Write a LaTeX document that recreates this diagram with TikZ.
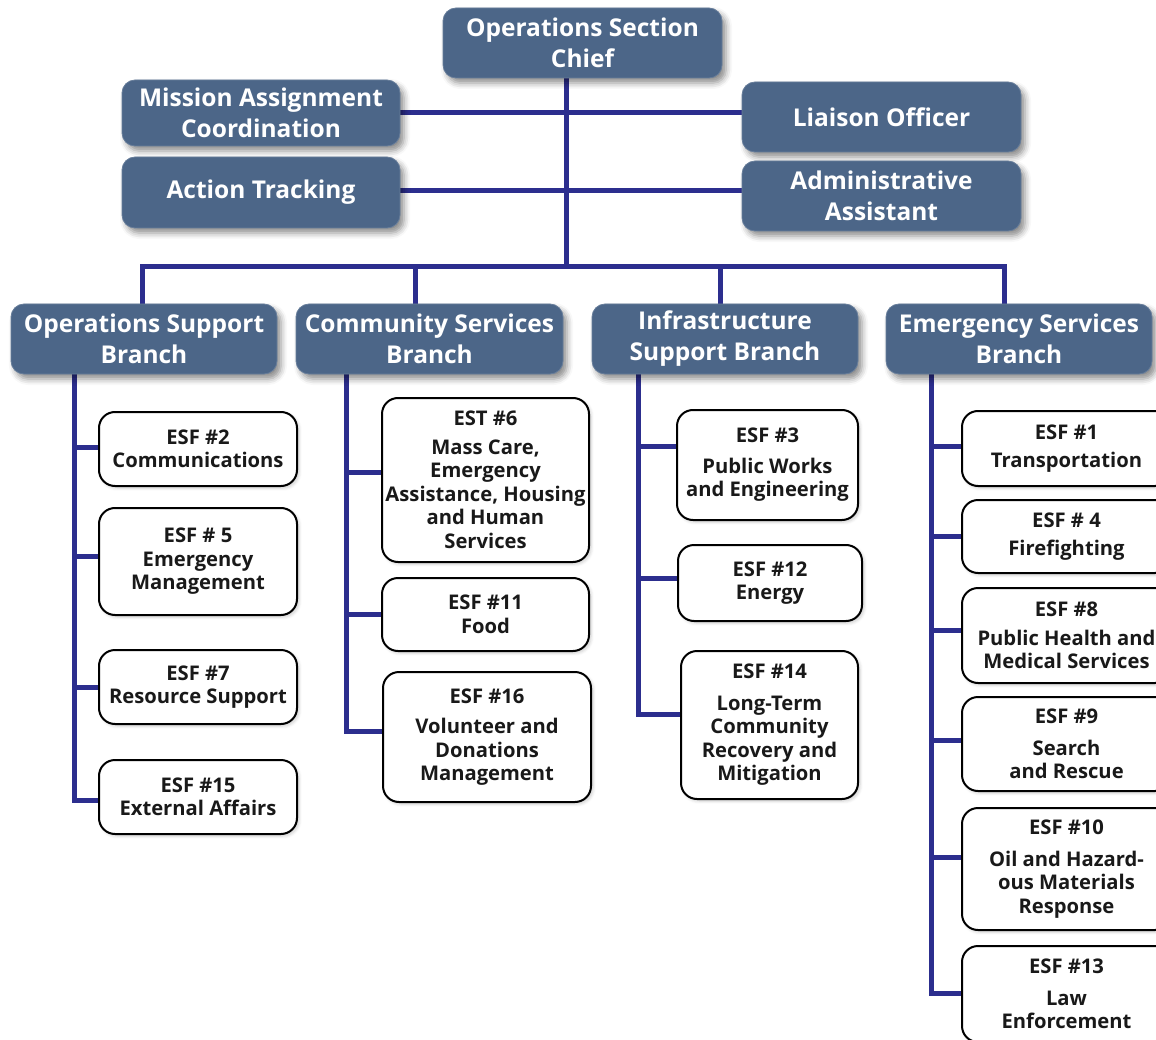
\documentclass[tikz,border=0pt]{standalone}
\usepackage{fontspec}
\setmainfont{Open Sans}
\usetikzlibrary{shadows.blur,calc}
\definecolor{boxblue}{RGB}{76,102,136}
\definecolor{linkblue}{RGB}{44,46,142}
\pgfdeclarelayer{bg}
\pgfsetlayers{bg,main}
\tikzset{
  headbox/.style={draw=boxblue!85!white, line width=0.8pt, fill=boxblue,
    rounded corners=13pt, text=white, align=center, inner sep=0pt,
    font=\bfseries\fontsize{24.5}{31}\selectfont,
    blur shadow={shadow xshift=4pt, shadow yshift=-5pt,
      shadow blur radius=6pt, shadow opacity=45}},
  esfbox/.style={draw=black, line width=2pt, fill=white,
    rounded corners=16pt, align=center, inner sep=0pt, text=black!90,
    font=\bfseries\fontsize{20.2}{23.5}\selectfont,
    blur shadow={shadow xshift=2pt, shadow yshift=-2pt,
      shadow blur radius=3pt, shadow opacity=20}},
  link/.style={draw=linkblue, line width=5pt, line cap=rect},
}
\begin{document}
\begin{tikzpicture}[x=1pt,y=-1pt]
\useasboundingbox (0,0) rectangle (1156,1040);
\clip (0,0) rectangle (1156,1040);

% command staff
\node[headbox, minimum width=279pt, minimum height=70pt] (chief) at (582.5,43) {Operations Section\\Chief};
\node[headbox, minimum width=278pt, minimum height=66pt] (mac) at (261,113) {Mission Assignment\\Coordination};
\node[headbox, minimum width=279pt, minimum height=70pt] (liaison) at (881.5,117) {Liaison Officer};
\node[headbox, minimum width=278pt, minimum height=71pt] (action) at (261,192.5) {Action Tracking};
\node[headbox, minimum width=279pt, minimum height=70pt] (admin) at (881.5,196) {Administrative\\Assistant};

% branches
\node[headbox, minimum width=266pt, minimum height=70pt] (ops) at (144,339) {Operations Support\\Branch};
\node[headbox, minimum width=267pt, minimum height=70pt] (comm) at (429.5,339) {Community Services\\Branch};
\node[headbox, minimum width=266pt, minimum height=70pt] (infra) at (725,339) {Infrastructure\\Support Branch};
\node[headbox, minimum width=266pt, minimum height=70pt] (emerg) at (1019,339) {Emergency Services\\Branch};

% operations support
\node[esfbox, minimum width=198pt, minimum height=74pt] (esf2) at (198,449) {ESF \#2\\Communications};
\node[esfbox, minimum width=198pt, minimum height=107pt] (esf5) at (198,561.5) {ESF \# 5\\Emergency\\Management};
\node[esfbox, minimum width=198pt, minimum height=74pt] (esf7) at (198,687) {ESF \#7\\Resource Support};
\node[esfbox, minimum width=198pt, minimum height=74pt] (esf15) at (198,797) {ESF \#15\\External Affairs};

% community services
\node[esfbox, minimum width=207pt, minimum height=164pt] (est6) at (485.5,480) {EST \#6\\[5pt]Mass Care,\\Emergency\\Assistance, Housing\\and Human\\Services};
\node[esfbox, minimum width=207pt, minimum height=73pt] (esf11) at (485.5,614.5) {ESF \#11\\Food};
\node[esfbox, minimum width=208pt, minimum height=130pt] (esf16) at (487,737) {ESF \#16\\[7pt]Volunteer and\\Donations\\Management};

% infrastructure support
\node[esfbox, minimum width=181pt, minimum height=110pt] (esf3) at (767.5,465) {ESF \#3\\[7pt]Public Works\\and Engineering};
\node[esfbox, minimum width=184pt, minimum height=76pt] (esf12) at (770,583) {ESF \#12\\Energy};
\node[esfbox, minimum width=177pt, minimum height=148pt] (esf14) at (769.5,725) {ESF \#14\\[8pt]Long-Term\\Community\\Recovery and\\Mitigation};

% emergency services
\node[esfbox, minimum width=209pt, minimum height=75pt] (esf1) at (1066.5,448.5) {ESF \#1\\[4pt]Transportation};
\node[esfbox, minimum width=209pt, minimum height=73pt] (esf4) at (1066.5,536.5) {ESF \# 4\\[4pt]Firefighting};
\node[esfbox, minimum width=209pt, minimum height=95pt] (esf8) at (1066.5,635.5) {ESF \#8\\[5pt]Public Health and\\Medical Services};
\node[esfbox, minimum width=209pt, minimum height=94pt] (esf9) at (1066.5,744) {ESF \#9\\[8pt]Search\\and Rescue};
\node[esfbox, minimum width=209pt, minimum height=122pt] (esf10) at (1066.5,869) {ESF \#10\\[8pt]Oil and Hazard-\\ous Materials\\Response};
\node[esfbox, minimum width=209pt, minimum height=96pt] (esf13) at (1066.5,994) {ESF \#13\\[8pt]Law\\Enforcement};

% connector geometry
\coordinate (tr) at (566,267);
\coordinate (d1) at (142,267);
\coordinate (d2) at (415,267);
\coordinate (d3) at (720,267);
\coordinate (d4) at (1004,267);
\coordinate (osp) at (74,0);
\coordinate (csp) at (346,0);
\coordinate (isp) at (638,0);
\coordinate (esp) at (931,0);

\begin{pgfonlayer}{bg}
  % trunk, staff lines and branch bus
  \draw[link] (chief.south -| tr) -- (tr);
  \draw[link] (mac.east) -- (mac.east -| liaison.west);
  \draw[link] ([yshift=2pt]action.east) -- ([yshift=2pt]action.east -| admin.west);
  \draw[link] (d1) -- (d4);
  \draw[link] (d1) -- (d1 |- ops.north);
  \draw[link] (d2) -- (d2 |- comm.north);
  \draw[link] (d3) -- (d3 |- infra.north);
  \draw[link] (d4) -- (d4 |- emerg.north);

  % feeders from each branch spine
  \foreach \sp/\c/\d in {osp/esf2/2, osp/esf5/5.5, osp/esf7/0, osp/esf15/-3,
      csp/est6/8, csp/esf11/0, csp/esf16/6,
      isp/esf3/19, isp/esf12/5, isp/esf14/11,
      esp/esf1/2.5, esp/esf4/0.5, esp/esf8/5.5, esp/esf9/4, esp/esf10/12, esp/esf13/1}
  {
    \coordinate (\c-in) at ([yshift=\d pt]\c.west);
    \draw[link] (\c-in -| \sp) -- (\c-in);
  }
  % branch spines, down to the last feeder
  \foreach \sp/\br/\last in {osp/ops/esf15, csp/comm/esf16, isp/infra/esf14, esp/emerg/esf13}
    \draw[link] (\br.south -| \sp) -- (\last-in -| \sp);
\end{pgfonlayer}
\end{tikzpicture}
\end{document}
